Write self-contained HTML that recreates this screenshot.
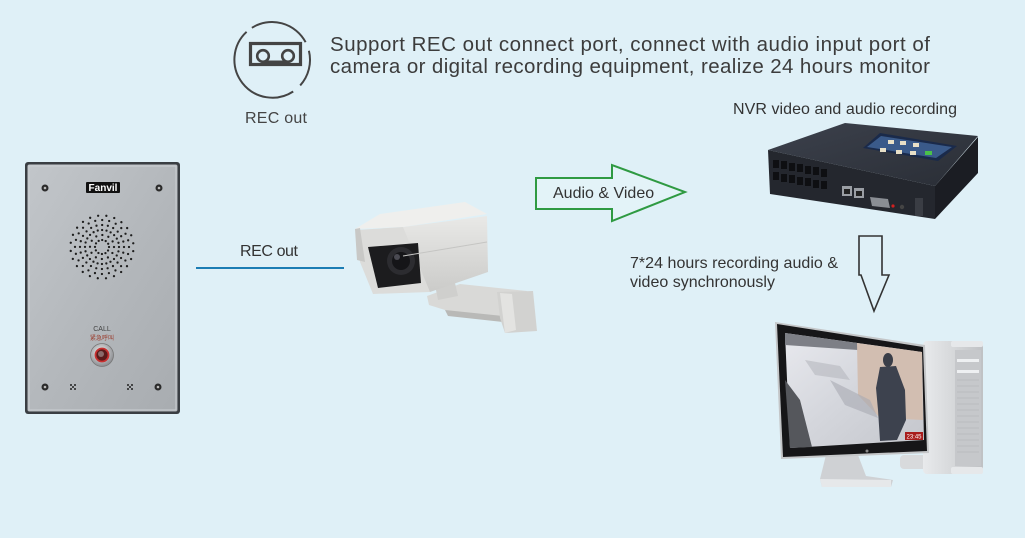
<!DOCTYPE html>
<html><head><meta charset="utf-8"><style>
html,body{margin:0;padding:0;background:#dff0f7;}
svg{display:block;}
text{font-family:"Liberation Sans","Noto Sans CJK SC",sans-serif;}
</style></head><body>
<svg width="1025" height="538" viewBox="0 0 1025 538" xmlns="http://www.w3.org/2000/svg">
<defs>
<linearGradient id="panel" x1="0" y1="0" x2="1" y2="1">
<stop offset="0" stop-color="#c2c6ca"/><stop offset="0.5" stop-color="#b4b8bc"/><stop offset="1" stop-color="#a8acb0"/>
</linearGradient>
<radialGradient id="btn" cx="0.45" cy="0.4" r="0.6">
<stop offset="0" stop-color="#f4f4f4"/><stop offset="1" stop-color="#8a8c90"/>
</radialGradient>
<linearGradient id="nvrtop" x1="0" y1="0" x2="1" y2="1">
<stop offset="0" stop-color="#3c414c"/><stop offset="1" stop-color="#2a2e36"/>
</linearGradient>
<linearGradient id="snow" x1="0" y1="0" x2="1" y2="1">
<stop offset="0" stop-color="#e8e9ee"/><stop offset="0.5" stop-color="#d4d6dc"/><stop offset="1" stop-color="#c4c6cc"/>
</linearGradient>
<linearGradient id="tower" x1="0" y1="0" x2="1" y2="0">
<stop offset="0" stop-color="#e8eaec"/><stop offset="0.5" stop-color="#d6d8da"/><stop offset="1" stop-color="#bfc1c4"/>
</linearGradient>
<linearGradient id="camside" x1="0" y1="0" x2="0" y2="1">
<stop offset="0" stop-color="#e9e9e7"/><stop offset="1" stop-color="#cbcbc9"/>
</linearGradient>
</defs>

<!-- REC icon -->
<g fill="none" stroke="#444" stroke-width="2">
<path d="M 251.9 27.8 A 38 38 0 0 1 305.6 42.2"/>
<path d="M 308.9 50.8 A 38 38 0 0 1 300.2 85.4"/>
<path d="M 293.2 91.5 A 38 38 0 0 1 246.6 31.8"/>
</g>
<rect x="250.5" y="43.5" width="50" height="21" fill="none" stroke="#444" stroke-width="3.2"/>
<circle cx="263" cy="56" r="5.8" fill="none" stroke="#444" stroke-width="2.6"/>
<circle cx="288" cy="56" r="5.8" fill="none" stroke="#444" stroke-width="2.6"/>
<line x1="263" y1="61.8" x2="288" y2="61.8" stroke="#444" stroke-width="2.6"/>
<text x="245" y="123" font-size="16" fill="#444" textLength="62">REC out</text>

<text x="330" y="51" font-size="20.5" fill="#3c3c3c" textLength="600">Support REC out connect port, connect with audio input port of</text>
<text x="330" y="73" font-size="20.5" fill="#3c3c3c" textLength="600">camera or digital recording equipment, realize 24 hours monitor</text>

<!-- Intercom panel -->
<rect x="25" y="162" width="155" height="252" rx="3" fill="#3a3e43"/>
<rect x="27.5" y="164.5" width="150" height="247" rx="2" fill="url(#panel)"/>
<rect x="29" y="166" width="147" height="244" fill="none" stroke="#cbcfd3" stroke-width="1"/>
<rect x="86" y="182" width="34" height="11" rx="1" fill="#111"/>
<text x="103" y="191" font-size="10" font-weight="bold" fill="#fff" text-anchor="middle">Fanvil</text>
<g fill="#2b2b2b">
<circle cx="45" cy="188" r="3.5"/><circle cx="159" cy="188" r="3.5"/>
<circle cx="45" cy="387" r="3.5"/><circle cx="158" cy="387" r="3.5"/>
</g>
<g fill="#bbb"><circle cx="45" cy="188" r="1.3"/><circle cx="159" cy="188" r="1.3"/><circle cx="45" cy="387" r="1.3"/><circle cx="158" cy="387" r="1.3"/></g>
<g fill="#222">
<circle cx="71" cy="385" r="1"/><circle cx="75" cy="385" r="1"/><circle cx="73" cy="387" r="1"/><circle cx="71" cy="389" r="1"/><circle cx="75" cy="389" r="1"/>
<circle cx="128" cy="385" r="1"/><circle cx="132" cy="385" r="1"/><circle cx="130" cy="387" r="1"/><circle cx="128" cy="389" r="1"/><circle cx="132" cy="389" r="1"/>
</g>
<g fill="none" stroke="#1e1e1e" stroke-linecap="round" stroke-width="2.3">
<circle cx="102" cy="247" r="7" stroke-dasharray="0 3.665"/>
<circle cx="102" cy="247" r="12" stroke-dasharray="0 6.283"/>
<circle cx="102" cy="247" r="17" stroke-dasharray="0 4.451"/>
<circle cx="102" cy="247" r="22" stroke-dasharray="0 5.76"/>
<circle cx="102" cy="247" r="27" stroke-dasharray="0 7.069"/>
<circle cx="102" cy="247" r="31.5" stroke-dasharray="0 8.247" transform="rotate(7.5 102 247)"/>
</g>
<text x="102" y="331" font-size="7" fill="#444" text-anchor="middle">CALL</text>
<text x="102" y="340" font-size="6" fill="#9a3a2a" text-anchor="middle">紧急呼叫</text>
<circle cx="102" cy="355" r="11.5" fill="url(#btn)" stroke="#777" stroke-width="0.8"/>
<circle cx="102" cy="355" r="6.5" fill="#5a1a1a" stroke="#c83030" stroke-width="1.8"/>
<circle cx="101" cy="354" r="3" fill="#8a6a6a"/>

<!-- REC out line -->
<text x="240" y="256" font-size="16" fill="#333" textLength="58">REC out</text>
<line x1="196" y1="268" x2="344" y2="268" stroke="#1b7db4" stroke-width="2"/>

<!-- Camera -->
<polygon points="427,296 460,284 527,291 524,320 503,322 445,310 429,305" fill="#d9d9d7"/>
<polygon points="445,310 503,316 503,322 448,316" fill="#b9b9b7"/>
<polygon points="497,292 533,291 537,331 505,333 500,318" fill="#d2d2d0"/>
<polygon points="500,293 512,294 516,330 505,333" fill="#e3e3e1"/>
<polygon points="433,275 452,270 458,296 438,300" fill="#cfcfcd"/>
<polygon points="403,227 487,216 488,272 430,292 420,292" fill="url(#camside)"/>
<polygon points="355,229 380,214 465,202 487,214 403,227" fill="#efefed"/>
<polygon points="357,230 403,227 430,292 373,294 360,262" fill="#dcdcda"/>
<polygon points="355,229 360,228 365,262 357,260" fill="#c8c8c6"/>
<polygon points="368,247 418,243 421,283 378,288" fill="#1c1c1e"/>
<circle cx="401" cy="261" r="14" fill="#2c2c30"/>
<circle cx="401" cy="261" r="9" fill="#151518"/>
<circle cx="397" cy="257" r="3" fill="#4a4a52"/>
<line x1="403" y1="256" x2="487" y2="242" stroke="#c5c5c3" stroke-width="1"/>

<!-- Audio & Video arrow -->
<polygon points="536,178 612,178 612,165 685,192 612,221 612,209 536,209" fill="#e3f3f8" stroke="#2f9a42" stroke-width="2" stroke-linejoin="miter"/>
<text x="553" y="198" font-size="16" fill="#333">Audio &amp; Video</text>

<!-- NVR -->
<text x="733" y="114" font-size="16" fill="#333" textLength="224">NVR video and audio recording</text>
<polygon points="768,150 845,123 978,136 935,186" fill="url(#nvrtop)"/>
<polygon points="768,150 935,186 935,219 770,194" fill="#24272e"/>
<polygon points="935,186 978,137 978,173 935,219" fill="#1b1d23"/>
<polygon points="863,148 880,133 957,146 938,161" fill="#1a2a4a"/>
<polygon points="867,147 881,136 952,147 936,158" fill="#3a5a8a"/>
<g fill="#e8e0c8"><rect x="888" y="140" width="6" height="4"/><rect x="900" y="141" width="6" height="4"/><rect x="913" y="143" width="6" height="4"/><rect x="880" y="148" width="6" height="4"/><rect x="896" y="150" width="6" height="4"/><rect x="910" y="151" width="6" height="4"/></g>
<rect x="925" y="151" width="7" height="4" fill="#4ac04a"/>
<g fill="#0e0f12">
<rect x="773" y="160" width="6" height="8"/><rect x="781" y="161" width="6" height="8"/><rect x="789" y="163" width="6" height="8"/><rect x="797" y="164" width="6" height="8"/><rect x="805" y="166" width="6" height="8"/><rect x="813" y="167" width="6" height="8"/><rect x="821" y="169" width="6" height="8"/>
<rect x="773" y="172" width="6" height="8"/><rect x="781" y="174" width="6" height="8"/><rect x="789" y="175" width="6" height="8"/><rect x="797" y="177" width="6" height="8"/><rect x="805" y="178" width="6" height="8"/><rect x="813" y="180" width="6" height="8"/><rect x="821" y="181" width="6" height="8"/>
</g>
<rect x="842" y="186" width="10" height="10" fill="#9a9ea4"/><rect x="854" y="188" width="10" height="10" fill="#9a9ea4"/>
<rect x="844" y="189" width="6" height="5" fill="#222"/><rect x="856" y="191" width="6" height="5" fill="#222"/>
<polygon points="870,197 888,199 890,208 872,206" fill="#8a8e94"/>
<circle cx="893" cy="206" r="1.6" fill="#d02020"/>
<circle cx="902" cy="207" r="2.2" fill="#444"/>
<rect x="915" y="198" width="8" height="18" fill="#3a3d44"/>

<!-- Down arrow -->
<polygon points="859,236 882,236 882,275 889,275 874,311 861,275 859,275" fill="none" stroke="#333" stroke-width="1.6" stroke-linejoin="miter"/>
<text x="630" y="268" font-size="16" fill="#333" textLength="208">7*24 hours recording audio &amp;</text>
<text x="630" y="287" font-size="16" fill="#333">video synchronously</text>

<!-- Tower -->
<rect x="900" y="455" width="60" height="14" rx="4" fill="#d8dadc"/>
<rect x="923" y="341" width="60" height="133" rx="4" fill="url(#tower)"/>
<rect x="955" y="350" width="26" height="116" fill="#c6c8cb"/>
<g stroke="#aeb0b3" stroke-width="0.6">
<line x1="957" y1="380" x2="979" y2="380"/><line x1="957" y1="386" x2="979" y2="386"/><line x1="957" y1="392" x2="979" y2="392"/><line x1="957" y1="398" x2="979" y2="398"/><line x1="957" y1="404" x2="979" y2="404"/><line x1="957" y1="410" x2="979" y2="410"/><line x1="957" y1="416" x2="979" y2="416"/><line x1="957" y1="422" x2="979" y2="422"/><line x1="957" y1="428" x2="979" y2="428"/><line x1="957" y1="434" x2="979" y2="434"/><line x1="957" y1="440" x2="979" y2="440"/><line x1="957" y1="446" x2="979" y2="446"/><line x1="957" y1="452" x2="979" y2="452"/>
</g>
<rect x="957" y="359" width="22" height="3" fill="#eef0f2"/><rect x="957" y="370" width="22" height="3" fill="#eef0f2"/>
<rect x="951" y="341" width="32" height="6" rx="2" fill="#e6e8ea"/>
<rect x="951" y="467" width="32" height="7" rx="2" fill="#e6e8ea"/>

<!-- Monitor stand -->
<polygon points="826,455 858,455 866,476 893,480 891,487 822,487 820,479" fill="#cfd1d4"/>
<polygon points="820,479 891,480 891,487 822,487" fill="#e6e8ea"/>

<!-- Monitor -->
<polygon points="775,322 925,345 929,453 781,459" fill="#c4c6c8"/>
<polygon points="777,324 923,347 927,451 783,457" fill="#161618"/>
<polygon points="785,333 922,352 924,440 790,448" fill="url(#snow)"/>
<polygon points="785,333 857,343 858,350 785,345" fill="#7d7f86"/>
<polygon points="857,343 922,352 923,420 880,418 858,395" fill="#d2beb1"/>
<polygon points="785,380 800,400 812,447 790,448" fill="#55575c"/>
<polygon points="830,380 870,400 878,418 845,405" fill="#a8aab2" opacity="0.6"/>
<polygon points="805,360 840,366 850,380 815,375" fill="#b6b8be" opacity="0.6"/>
<ellipse cx="888" cy="360" rx="5" ry="7" fill="#3a3e48"/>
<polygon points="880,367 896,366 905,390 906,420 897,440 880,441 878,410 876,388" fill="#3d424e"/>
<rect x="905" y="432" width="18" height="8" fill="#a81c1c"/>
<text x="914" y="438.5" font-size="6" fill="#fff" text-anchor="middle">23:45</text>
<circle cx="867" cy="451" r="1.5" fill="#888"/>
</svg>
</body></html>
